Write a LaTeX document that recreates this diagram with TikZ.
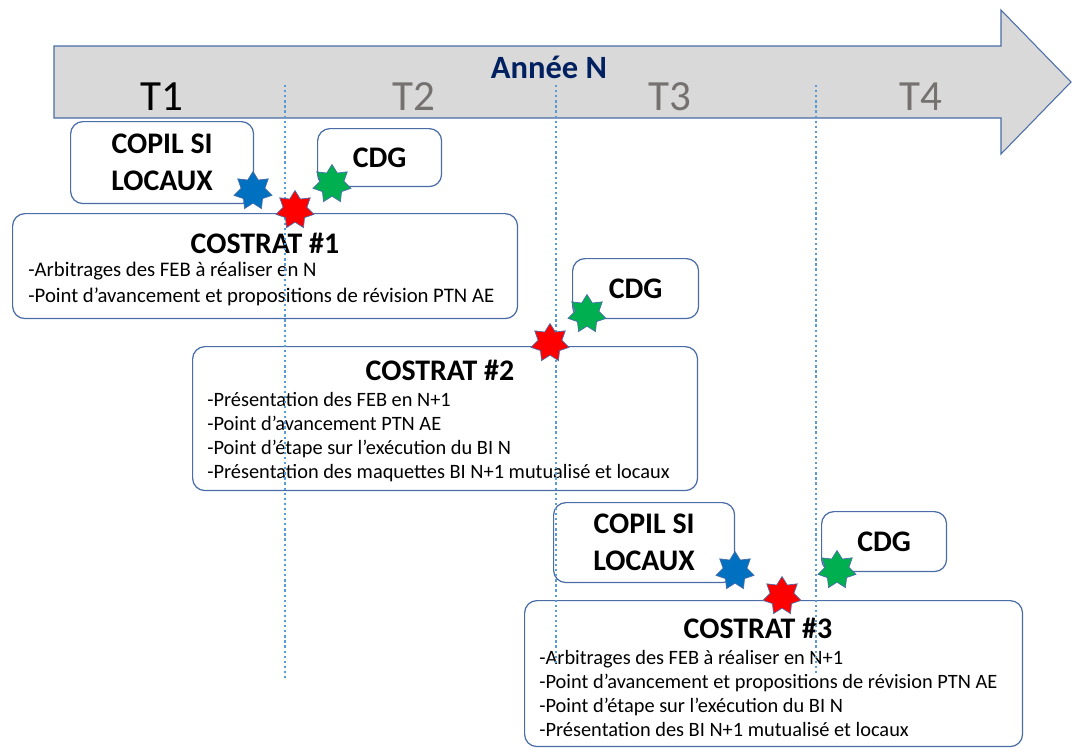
\documentclass[tikz,border=0pt]{standalone}
\usepackage{fontspec}
\setmainfont{Carlito}
\usepackage{tikz}
\usetikzlibrary{shapes.geometric, positioning}
\definecolor{boxline}{HTML}{4A6DA7}
\definecolor{arrowfill}{HTML}{D9D9D9}
\definecolor{dotline}{HTML}{5B9BD5}
\definecolor{navy}{HTML}{002060}
\definecolor{quartergray}{HTML}{767171}
\definecolor{starblue}{HTML}{0070C0}
\definecolor{starred}{HTML}{FF0000}
\definecolor{stargreen}{HTML}{00B050}

\begin{document}
\begin{tikzpicture}[
    x=0.02cm, y=-0.02cm,
    % boxes and their texts
    block/.style={draw=boxline, line width=0.7pt, rounded corners=7pt, anchor=north west, inner sep=0pt},
    meeting/.style={font=\fontsize{17}{21}\selectfont\bfseries, align=center},
    title/.style={font=\fontsize{17}{20}\selectfont\bfseries, inner sep=0pt},
    items/.style={font=\fontsize{11.6}{13.7}\selectfont, align=left, anchor=north west, inner sep=0pt},
    quarter/.style={font=\fontsize{24.5}{28}\selectfont, text=quartergray, inner sep=0pt},
    % stars and separators
    milestone/.style={star, star points=7, star point ratio=1.6, minimum size=0.78cm, inner sep=0pt, draw=boxline, line width=0.4pt},
    sep/.style={dotline, line width=1.4pt, dash pattern=on 1.3pt off 1.6pt}
]
    \useasboundingbox (0,0) rectangle (1072,748);

    % --- YEAR ARROW ---
    \draw[draw=boxline, fill=arrowfill, line width=0.6pt]
        (54,46) -- (1001,46) -- (1001,10) -- (1071,82) -- (1001,154) -- (1001,118) -- (54,118) -- cycle;
    \node (year) [font=\fontsize{18.5}{22}\selectfont\bfseries, text=navy, inner sep=0pt] at (549,67) {Année N};
    \node (t1) [quarter, text=black] at (162,97) {T1};
    \node (t2) [quarter] at (414,97) {T2};
    \node (t3) [quarter] at (670,97) {T3};
    \node (t4) [quarter] at (921,97) {T4};

    % --- ROW 1 ---
    \node (copil1) [block, meeting, minimum width=3.66cm, minimum height=1.64cm] at (70,121) {COPIL SI\\LOCAUX};
    \node (cdg1) [block, meeting, minimum width=2.48cm, minimum height=1.16cm] at (317,128) {CDG};
    \node (costrat1) [block, minimum width=10.1cm, minimum height=2.1cm] at (12,213) {};
    \node (title1) [title] at (265,243) {COSTRAT \#1};
    \node (list1) [items, font=\fontsize{11.8}{14.7}\selectfont] at (28,262)
        {-Arbitrages des FEB à réaliser en N\\-Point d’avancement et propositions de révision PTN AE};

    % --- ROW 2 ---
    \node (cdg2) [block, meeting, minimum width=2.52cm, minimum height=1.2cm] at (572,258) {CDG};
    \node (costrat2) [block, minimum width=10.1cm, minimum height=2.88cm] at (192,346) {};
    \node (title2) [title] at (440,370) {COSTRAT \#2};
    \node (list2) [items] at (207,392)
        {-Présentation des FEB en N+1\\-Point d’avancement PTN AE\\-Point d’étape sur l’exécution du BI N\\-Présentation des maquettes BI N+1 mutualisé et locaux};

    % --- ROW 3 ---
    \node (copil2) [block, meeting, minimum width=3.62cm, minimum height=1.6cm] at (553,502) {COPIL SI\\LOCAUX};
    \node (cdg3) [block, meeting, minimum width=2.5cm, minimum height=1.2cm] at (821,511) {CDG};
    \node (costrat3) [block, minimum width=9.96cm, minimum height=2.92cm] at (524,600) {};
    \node (title3) [title] at (758,628) {COSTRAT \#3};
    \node (list3) [items] at (539,650)
        {-Arbitrages des FEB à réaliser en N+1\\-Point d’avancement et propositions de révision PTN AE\\-Point d’étape sur l’exécution du BI N\\-Présentation des BI N+1 mutualisé et locaux};

    % --- QUARTER SEPARATORS ---
    \coordinate (sep1top) at (285,85);
    \coordinate (sep1bot) at (285,680);
    \coordinate (sep2top) at (556,85);
    \coordinate (sep2bot) at (556,665);
    \coordinate (sep3top) at (816,85);
    \coordinate (sep3bot) at (816,675);
    \draw[sep] (sep1top) -- (sep1bot);
    \draw[sep] (sep2top) -- (sep2bot);
    \draw[sep] (sep3top) -- (sep3bot);

    % --- MILESTONES ---
    \node (blue1) [milestone, fill=starblue] at (253,191) {};
    \node (green1) [milestone, fill=stargreen] at (332,184) {};
    \node (red1) [milestone, fill=starred] at (295,210) {};
    \node (green2) [milestone, fill=stargreen] at (587,314) {};
    \node (red2) [milestone, fill=starred] at (550,343) {};
    \node (blue2) [milestone, fill=starblue] at (735,571) {};
    \node (green3) [milestone, fill=stargreen] at (837,570) {};
    \node (red3) [milestone, fill=starred] at (782,596) {};

\end{tikzpicture}
\end{document}
